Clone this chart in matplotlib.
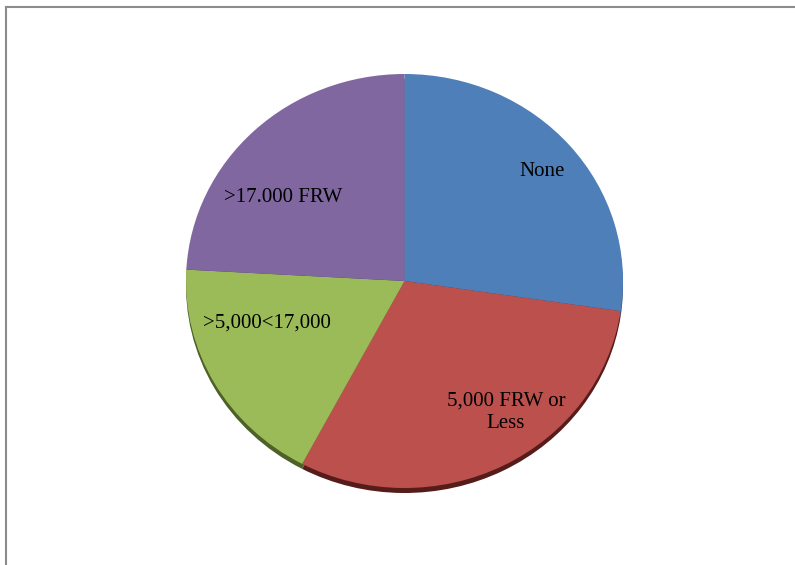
import matplotlib.pyplot as plt
from matplotlib.lines import Line2D

# ==============================================================================
# DATA (percent of respondents)
# ==============================================================================
labels = ["None", "5,000 FRW or\nLess", ">5,000<17,000", ">17.000 FRW"]
shares = [27.3, 30.4, 18.1, 24.1]

# Office-style palette, plus darker tones for the 3D rim
face_colors = ["#4f7fb8", "#bb504d", "#9bbb59", "#8067a0"]
rim_colors = ["#2c4a6e", "#561c1a", "#4e6128", "#44345a"]

# label anchor points in pixels of the 795x565 image (Excel "best fit" spots)
label_px = [(542, 171), (506, 412), (267, 323), (283, 198)]

W, H = 795, 565
fig = plt.figure(figsize=(W / 100, H / 100), dpi=100)
fig.patch.set_facecolor("white")

# pie face: ellipse spanning x 186..623, y 74..488 (pixels)
left, right, top, bottom = 186, 623, 74, 488
ax = fig.add_axes([left / W, 1 - bottom / H, (right - left) / W, (bottom - top) / H])

# 3D rim: same pie shifted a few pixels down in dark tones
rim_shift = 5 / ((bottom - top) / 2)
ax.pie(shares, colors=rim_colors, startangle=90, counterclock=False,
       radius=1, center=(0, -rim_shift), frame=True,
       wedgeprops=dict(linewidth=0))
ax.pie(shares, colors=face_colors, startangle=90, counterclock=False,
       radius=1, center=(0, 0), frame=True,
       wedgeprops=dict(linewidth=0))

ax.set_aspect("auto")
ax.set_xlim(-1, 1)
ax.set_ylim(-1, 1)
ax.axis("off")

cx, cy = (left + right) / 2, (top + bottom) / 2
rx, ry = (right - left) / 2, (bottom - top) / 2
for lab, (px, py) in zip(labels, label_px):
    ax.text((px - cx) / rx, (cy - py) / ry, lab, ha="center", va="center",
            fontsize=15, family="Liberation Serif", color="black",
            linespacing=1.25)

# outer chart frame (cut off at right and bottom in the reference)
fig.add_artist(Line2D([6 / W, 6 / W], [0, 1 - 7 / H], transform=fig.transFigure,
                      color="#8c8c8c", linewidth=1.5))
fig.add_artist(Line2D([6 / W, 1], [1 - 7 / H, 1 - 7 / H], transform=fig.transFigure,
                      color="#8c8c8c", linewidth=1.5))

fig.savefig("out.png", dpi=100)
